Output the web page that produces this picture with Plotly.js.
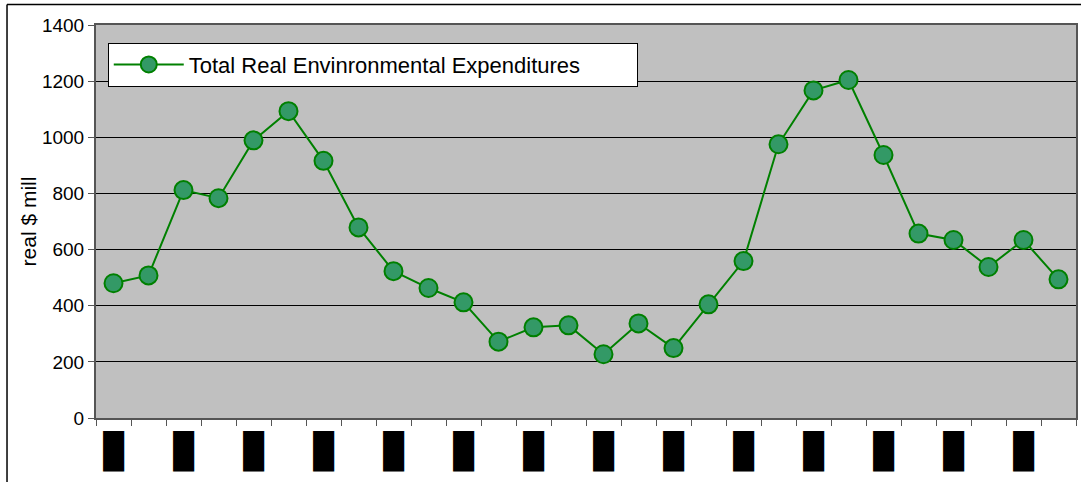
<!DOCTYPE html>
<html>
<head>
<meta charset="utf-8">
<script src="https://cdn.plot.ly/plotly-3.0.1.min.js"></script>
<style>html,body{margin:0;padding:0;background:#fff;}#chart{width:1081px;height:482px;}</style>
</head>
<body>
<div id="chart"></div>
<script>
// Categories (original labels are unreadable: drawn as solid black boxes)
var categories = ["1","2","3","4","5","6","7","8","9","10","11","12","13","14","15","16","17","18","19","20","21","22","23","24","25","26","27","28"];
var expenditures = [480, 508, 812, 783, 989, 1093, 916, 679, 523, 463, 412, 272, 323, 330, 227, 337, 249, 405, 559, 975, 1167, 1204, 937, 657, 634, 538, 634, 494];
var tickLabels = ["█","","█","","█","","█","","█","","█","","█","","█","","█","","█","","█","","█","","█","","█",""];
var seriesName = "Total Real Envinronmental Expenditures";
var yTitle = "real $ mill";

var trace = {
  x: categories,
  y: expenditures,
  type: "scatter",
  mode: "lines+markers",
  name: seriesName,
  line: {color: "#008000", width: 2},
  marker: {size: 18, color: "#339966", line: {color: "#008000", width: 2}},
  showlegend: true
};

var layout = {
  width: 1081,
  height: 482,
  margin: {l: 96, r: 5, t: 25, b: 64},
  paper_bgcolor: "#ffffff",
  plot_bgcolor: "#c0c0c0",
  font: {family: "Liberation Sans, Arial, sans-serif", color: "#000", size: 18},
  showlegend: true,
  legend: {
    orientation: "h",
    x: 0.012, y: 0.955, xanchor: "left", yanchor: "top",
    bgcolor: "#ffffff", bordercolor: "#000000", borderwidth: 1,
    font: {size: 22, family: "Liberation Sans, Arial, sans-serif"},
    itemwidth: 70,
    entrywidth: 443,
    entrywidthmode: "pixels"
  },
  xaxis: {
    type: "category",
    range: [-0.5, 27.5],
    autorange: false,
    tickmode: "array",
    tickvals: categories,
    ticktext: tickLabels,
    tickson: "boundaries",
    ticks: "outside",
    ticklen: 6,
    tickcolor: "#555",
    tickfont: {family: "DejaVu Sans Mono", size: 34, color: "#000"},
    ticklabelstandoff: 2,
    showgrid: false,
    showline: true,
    linecolor: "#555",
    linewidth: 2,
    mirror: true,
    zeroline: false,
    fixedrange: true
  },
  yaxis: {
    range: [0, 1400],
    autorange: false,
    dtick: 200,
    ticks: "outside",
    ticklen: 6,
    tickcolor: "#555",
    showgrid: true,
    gridcolor: "#000000",
    gridwidth: 1,
    showline: true,
    linecolor: "#555",
    linewidth: 2,
    mirror: true,
    zeroline: false,
    tickfont: {size: 19},
    title: {text: yTitle, font: {size: 21}, standoff: 0},
    fixedrange: true
  },
  shapes: [
    {type: "line", xref: "paper", yref: "paper", x0: -0.0908, x1: 1.01, y0: 1.0522, y1: 1.0522, line: {color: "#000", width: 1.5}},
    {type: "line", xref: "paper", yref: "paper", x0: -0.0908, x1: -0.0908, y0: 1.0522, y1: -0.2, line: {color: "#000", width: 1.5}}
  ]
};

Plotly.newPlot("chart", [trace], layout, {displayModeBar: false, staticPlot: true});
</script>
</body>
</html>
